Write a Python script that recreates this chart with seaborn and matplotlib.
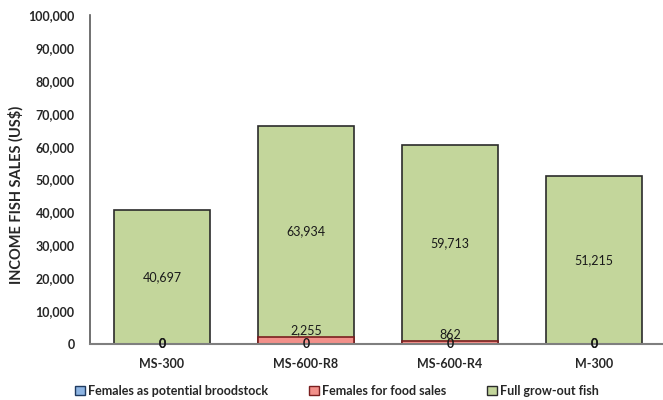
import matplotlib
matplotlib.use("Agg")
import matplotlib.pyplot as plt
from matplotlib.patches import Patch
import seaborn as sns
import pandas as pd

categories = ["MS-300", "MS-600-R8", "MS-600-R4", "M-300"]
broodstock = [0, 0, 0, 0]
food_sales = [0, 2255, 862, 0]
full_growout = [40697, 63934, 59713, 51215]

series_names = ["Females as potential broodstock", "Females for food sales", "Full grow-out fish"]
colors = ["#8DB4E2", "#F2908A", "#C3D69B"]
edge_colors = ["#1F3A60", "#7A1F1F", "#2B2B2B"]
y_ticks = list(range(0, 100001, 10000))

sns.set_theme(style="white")
plt.rcParams["font.family"] = ["Lato", "DejaVu Sans"]

df = pd.DataFrame({
    "category": categories,
    "brood": broodstock,
    "food": food_sales,
    "full": full_growout,
})
df["top_food"] = df["brood"] + df["food"]
df["top_full"] = df["top_food"] + df["full"]

fig = plt.figure(figsize=(6.63, 4.0), dpi=100)
ax = fig.add_axes([90 / 663, 56 / 400, 573 / 663, 329 / 400])

# stacked bars: draw cumulative totals from the tallest layer down
bar_w = 0.667
sns.barplot(data=df, x="category", y="top_full", color=colors[2], width=bar_w,
            edgecolor=edge_colors[2], linewidth=1.2, saturation=1, ax=ax)
sns.barplot(data=df, x="category", y="top_food", color=colors[1], width=bar_w,
            edgecolor=edge_colors[1], linewidth=1.2, saturation=1, ax=ax)
sns.barplot(data=df, x="category", y="brood", color=colors[0], width=bar_w,
            edgecolor=edge_colors[0], linewidth=1.2, saturation=1, ax=ax)

label_kw = dict(ha="center", fontsize=9, color="#1a1a1a", zorder=5)
for i, row in df.iterrows():
    ax.text(i, row["brood"] / 2, f"{row['brood']:,}", va="center", fontweight="bold", **label_kw)
    if row["food"] > 0:
        ax.text(i, row["top_food"], f"{row['food']:,}", va="bottom", **label_kw)
    else:
        ax.text(i, row["brood"] + row["food"] / 2, f"{row['food']:,}", va="center",
                fontweight="bold", **label_kw)
    ax.text(i, row["top_food"] + row["full"] / 2, f"{row['full']:,}", va="center", **label_kw)

ax.set_xlim(-0.5, -0.5 + 573 / 144)
ax.set_ylim(0, 100000)
ax.set_yticks(y_ticks)
ax.set_yticklabels([f"{v:,}" for v in y_ticks], fontsize=9, fontweight="bold", color="#262626")
ax.tick_params(axis="x", labelsize=9, colors="#262626", length=0, pad=10)
ax.tick_params(axis="y", length=0, pad=11)
for lbl in ax.get_xticklabels():
    lbl.set_fontweight("bold")
ax.set_xlabel("")
ax.set_ylabel("INCOME FISH SALES (US$)", fontsize=10.5, fontweight="bold", color="#262626")
ax.yaxis.set_label_coords(-66 / 573, 0.453)

sns.despine(ax=ax, top=True, right=True)
ax.spines["left"].set_color("#595959")
ax.spines["bottom"].set_color("#7f7f7f")
ax.spines["left"].set_linewidth(1.2)
ax.spines["bottom"].set_linewidth(1.5)

handles = [Patch(facecolor=c, edgecolor=e, linewidth=1.0) for c, e in zip(colors, edge_colors)]
fig.legend(handles, series_names, loc="center", bbox_to_anchor=(337 / 663, 1 - 391 / 400),
           ncol=3, frameon=False, handlelength=0.8, handleheight=0.8,
           handletextpad=0.3, columnspacing=3.2, prop={"weight": "bold", "size": 9})

fig.savefig("out.png", dpi=100)
